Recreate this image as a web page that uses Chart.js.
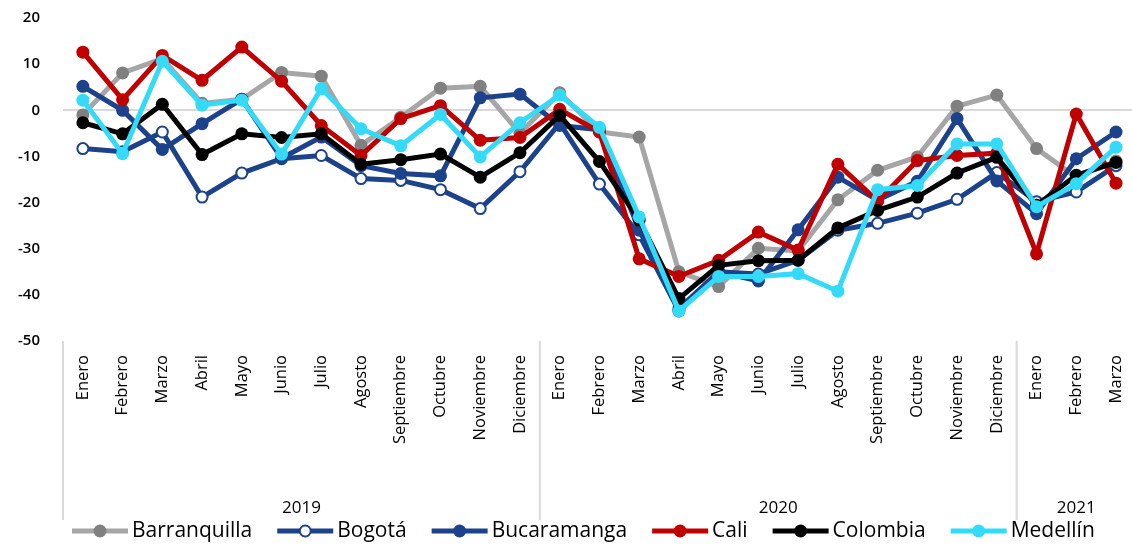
<!DOCTYPE html>
<html>
<head>
<meta charset="utf-8">
<script src="https://cdn.jsdelivr.net/npm/chart.js@4/dist/chart.umd.min.js"></script>
<style>
  html, body { margin: 0; padding: 0; background: #fff; overflow: hidden; }
  #wrap { width: 1150px; height: 546px; }
</style>
</head>
<body>
<div id="wrap"><canvas id="chart" width="1150" height="546"></canvas></div>
<script>
const months = ["Enero", "Febrero", "Marzo", "Abril", "Mayo", "Junio", "Julio", "Agosto",
  "Septiembre", "Octubre", "Noviembre", "Diciembre",
  "Enero", "Febrero", "Marzo", "Abril", "Mayo", "Junio", "Julio", "Agosto",
  "Septiembre", "Octubre", "Noviembre", "Diciembre",
  "Enero", "Febrero", "Marzo"];
const years = ["2019", "2020", "2021"];
const monthsPerYear = [12, 12, 3];

const barranquilla = [-1, 8.1, 11.2, 1.5, 2.4, 8.2, 7.4, -7.6, -1.5, 4.8, 5.2, -5,
  3.8, -4.7, -5.8, -35, -38.2, -29.9, -30.5, -19.4, -13, -10.1, 0.9, 3.3,
  -8.3, -14.5, -11];
const bogota = [-8.3, -9.0, -4.7, -18.8, -13.6, -10.5, -9.8, -14.8, -15.2, -17.2, -21.3, -13.3,
  -2.8, -16, -27, -43.5, -35, -35.5, -32.5, -26, -24.5, -22.3, -19.3, -13.5,
  -19.8, -17.7, -12];
const bucaramanga = [5.2, 0, -8.5, -2.9, 2.4, -10.4, -5.8, -12, -13.7, -14.2, 2.7, 3.5,
  -3.3, -4.2, -26, -43, -35, -37, -25.9, -14.5, -19.5, -15.4, -1.8, -15.3,
  -22.4, -10.5, -4.7];
const cali = [12.6, 2.3, 11.9, 6.5, 13.7, 6.3, -3.3, -9.8, -1.8, 1.0, -6.5, -5.9,
  0.2, -4.7, -32.2, -36, -32.5, -26.4, -30.3, -11.7, -19.7, -10.9, -9.8, -9.3,
  -31.1, -0.8, -15.8];
const colombia = [-2.7, -5.1, 1.3, -9.6, -5.1, -5.9, -5.1, -11.7, -10.7, -9.5, -14.5, -9.2,
  -1.1, -11.1, -23.8, -40.8, -33.6, -32.6, -32.5, -25.5, -21.7, -18.8, -13.6, -10.2,
  -20.6, -14.1, -11.3];
const medellin = [2.2, -9.4, 10.6, 1.1, 2.2, -9.5, 4.7, -4.0, -7.7, -0.9, -10.1, -2.7,
  3.3, -3.7, -23.1, -43.5, -36, -36, -35.4, -39.2, -17.2, -16.3, -7.3, -7.3,
  -20.9, -15.9, -8.0];

const FONT = "'Open Sans', sans-serif";
const BLUE = "#1b428a";

function series(label, data, color, pointColor, order, open) {
  return {
    label: label,
    data: data,
    borderColor: color,
    backgroundColor: color,
    borderWidth: 5,
    pointRadius: open ? 5.5 : 6.5,
    pointBackgroundColor: open ? "#ffffff" : pointColor,
    pointBorderColor: pointColor,
    pointBorderWidth: open ? 2 : 0,
    tension: 0,
    order: order
  };
}

// year separators + year labels under the month labels
const groupAxis = {
  id: "groupAxis",
  afterDraw(chart) {
    const ctx = chart.ctx;
    const x = chart.scales.x;
    const step = x.getPixelForValue(1) - x.getPixelForValue(0);
    const top = chart.chartArea.bottom;
    ctx.save();
    ctx.strokeStyle = "#d9d9d9";
    ctx.lineWidth = 2;
    let start = 0;
    years.forEach((yr, i) => {
      const end = start + monthsPerYear[i];
      const left = x.getPixelForValue(start) - step / 2;
      const right = x.getPixelForValue(end - 1) + step / 2;
      ctx.beginPath();
      ctx.moveTo(left, top);
      ctx.lineTo(left, 520);
      ctx.stroke();
      ctx.fillStyle = "#000";
      ctx.font = "17px " + FONT;
      ctx.textAlign = "center";
      ctx.textBaseline = "middle";
      ctx.fillText(yr, (left + right) / 2, 508);
      start = end;
    });
    ctx.restore();
  }
};

// legend row: line with marker, then the name
const lineLegend = {
  id: "lineLegend",
  afterDraw(chart) {
    const ctx = chart.ctx;
    ctx.save();
    ctx.font = "21px " + FONT;
    ctx.textBaseline = "middle";
    ctx.textAlign = "left";
    let x = 72;
    const y = 531;
    chart.data.datasets.forEach(ds => {
      ctx.strokeStyle = ds.borderColor;
      ctx.lineWidth = 5;
      ctx.beginPath();
      ctx.moveTo(x, y);
      ctx.lineTo(x + 56, y);
      ctx.stroke();
      ctx.beginPath();
      ctx.arc(x + 28, y, ds.pointRadius, 0, Math.PI * 2);
      ctx.fillStyle = ds.pointBackgroundColor;
      ctx.fill();
      if (ds.pointBorderWidth) {
        ctx.lineWidth = ds.pointBorderWidth;
        ctx.strokeStyle = ds.pointBorderColor;
        ctx.stroke();
      }
      ctx.fillStyle = "#000";
      ctx.fillText(ds.label, x + 60, y);
      x += 60 + ctx.measureText(ds.label).width + 25;
    });
    ctx.restore();
  }
};

new Chart(document.getElementById("chart"), {
  type: "line",
  data: {
    labels: months,
    datasets: [
      series("Barranquilla", barranquilla, "#a6a6a6", "#808080", 6, false),
      series("Bogotá", bogota, BLUE, BLUE, 5, true),
      series("Bucaramanga", bucaramanga, BLUE, BLUE, 4, false),
      series("Cali", cali, "#c00000", "#c00000", 3, false),
      series("Colombia", colombia, "#000000", "#000000", 2, false),
      series("Medellín", medellin, "#33dbf8", "#33dbf8", 1, false)
    ]
  },
  options: {
    responsive: false,
    animation: false,
    layout: { padding: { top: 18, right: 10, left: 0, bottom: 0 } },
    plugins: {
      legend: { display: false },
      tooltip: { enabled: false }
    },
    scales: {
      x: {
        offset: true,
        grid: { display: false, drawTicks: false },
        border: { display: false },
        ticks: {
          autoSkip: false,
          minRotation: 90,
          maxRotation: 90,
          padding: 14,
          color: "#000",
          font: { family: FONT, size: 16.5 }
        },
        afterFit(scale) { scale.height = 205; }
      },
      y: {
        min: -50,
        max: 20,
        border: { display: false },
        grid: {
          drawTicks: true,
          tickLength: 23,
          tickColor: "rgba(0,0,0,0)",
          lineWidth: 2,
          color: c => (c.tick && c.tick.value === 0 ? "#d9d9d9" : "rgba(0,0,0,0)")
        },
        ticks: {
          stepSize: 10,
          padding: 0,
          color: "#000",
          font: { family: FONT, size: 15, weight: "600" }
        },
        afterFit(scale) { scale.width = 63; }
      }
    }
  },
  plugins: [groupAxis, lineLegend]
});
</script>
</body>
</html>
